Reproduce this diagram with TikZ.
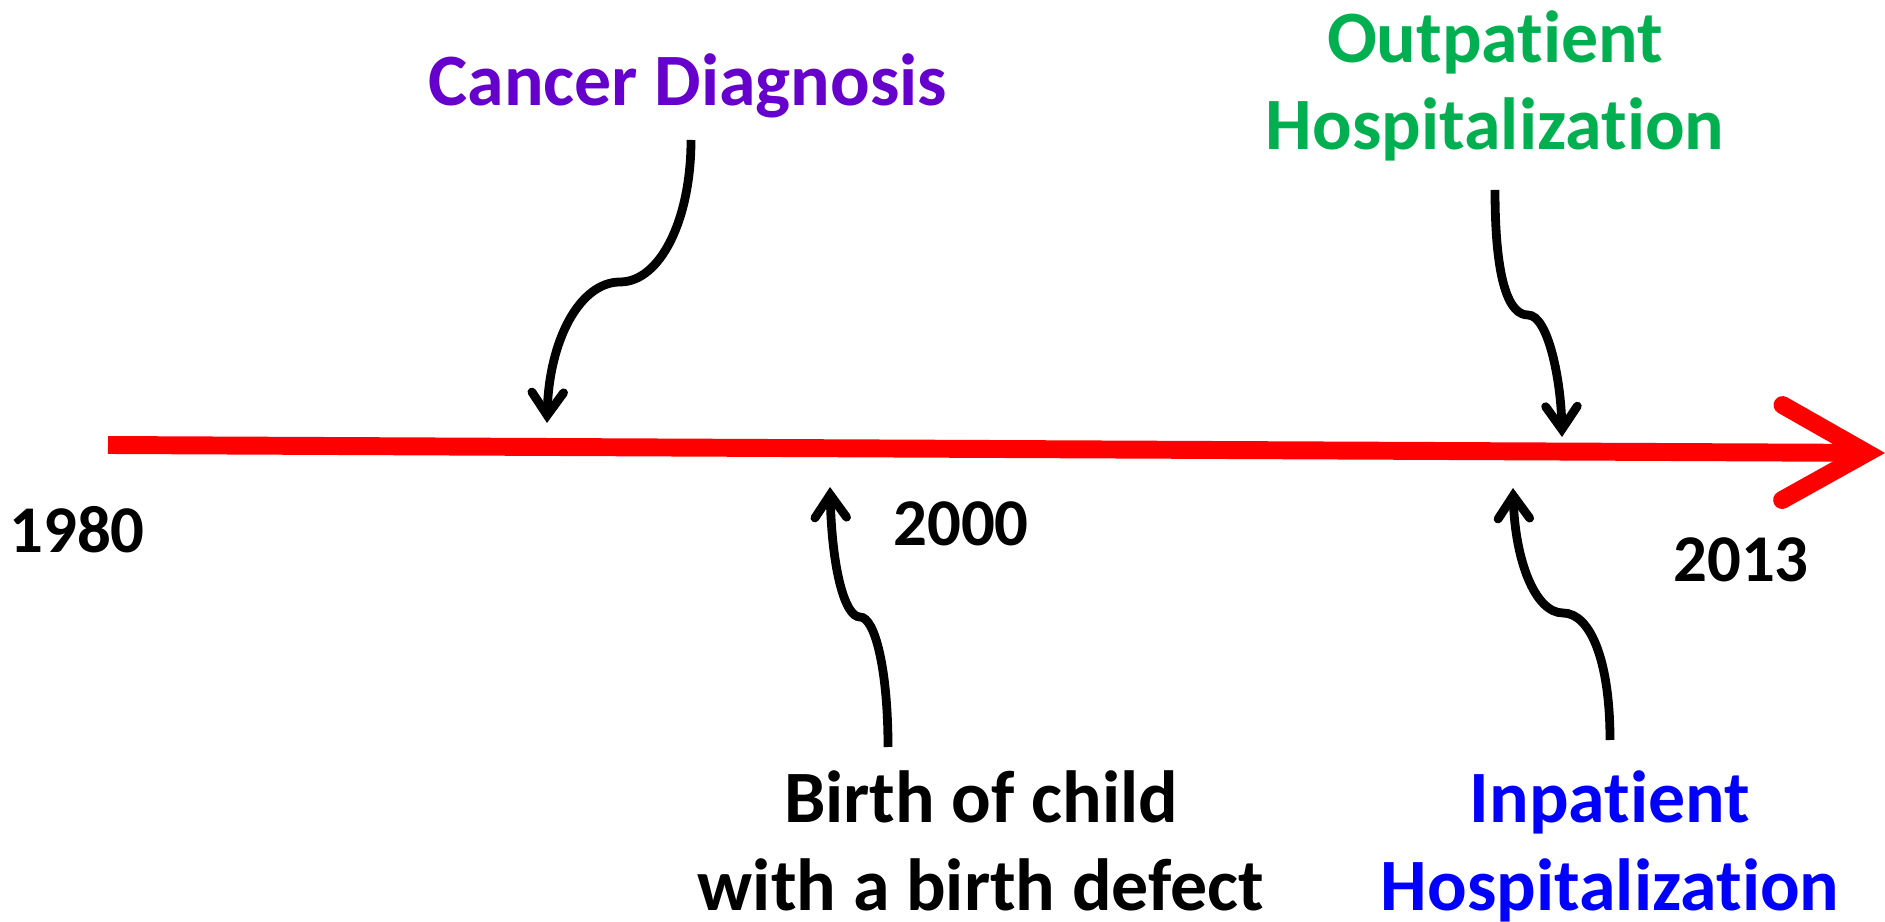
\documentclass[tikz,border=0pt]{standalone}
\usepackage{fontspec}
\setmainfont{Carlito}[Ligatures=NoCommon]
\usepackage{tikz}
\usetikzlibrary{arrows.meta}

\definecolor{cancerpurple}{HTML}{6600CC}
\definecolor{outgreen}{HTML}{00B050}
\definecolor{inblue}{HTML}{0000FF}

\tikzset{
  evtext/.style={font=\fontsize{21}{25}\selectfont\bfseries, align=center, inner sep=0pt, anchor=base},
  yeartext/.style={font=\fontsize{19}{23}\selectfont\bfseries, inner sep=0pt, anchor=base},
  pointer/.style={line width=2.5pt, -{Straight Barb[length=6.5pt,width=9pt,line cap=round]}}
}

\begin{document}
\begin{tikzpicture}[x=0.01cm,y=-0.01cm]
\useasboundingbox (0,0) rectangle (1885,922);
%
\coordinate (tlstart) at (108,445);
\coordinate (tlend) at (1885,453);
\draw [red, line width=5.1pt, -{Straight Barb[length=24pt,width=27pt,line cap=round,line join=miter]}] (tlstart) -- (tlend);
%
\node [yeartext] (y1980) at (77,553) {1980};
\node [yeartext] (y2000) at (961,546) {2000};
\node [yeartext] (y2013) at (1741,582) {2013};
%
\node [evtext, text=cancerpurple] (cancer) at (688,106) {Cancer Diagnosis};
\node [evtext, text=outgreen] (outpat) at (1495,150) {Outpatient\\Hospitalization};
\node [evtext] (birth) at (981,910) {Birth of child\\with a birth defect};
\node [evtext, text=inblue] (inpat) at (1610,910) {Inpatient\\Hospitalization};
%
\coordinate (cancerfrom) at (691,140);
\coordinate (cancerto) at (547,423);
\coordinate (outfrom) at (1495,190);
\coordinate (outto) at (1562,437);
\coordinate (birthfrom) at (888,747);
\coordinate (birthto) at (830,487);
\coordinate (infrom) at (1610,740);
\coordinate (into) at (1513,488);
%
\draw [pointer] (cancerfrom) .. controls (691,220) and (660,282) .. (620,282) .. controls (580,282) and (549,340) .. (cancerto);
\draw [pointer] (outfrom) .. controls (1495,285) and (1510,315) .. (1528,315) .. controls (1548,315) and (1561,380) .. (outto);
\draw [pointer] (birthfrom) .. controls (888,670) and (875,617) .. (860,617) .. controls (845,617) and (832,570) .. (birthto);
\draw [pointer] (infrom) .. controls (1610,660) and (1590,613) .. (1563,613) .. controls (1535,613) and (1515,560) .. (into);
%%%%%%%%%%%%%%%%%%%%%%%%%%%%%%%
\end{tikzpicture}
\end{document}
